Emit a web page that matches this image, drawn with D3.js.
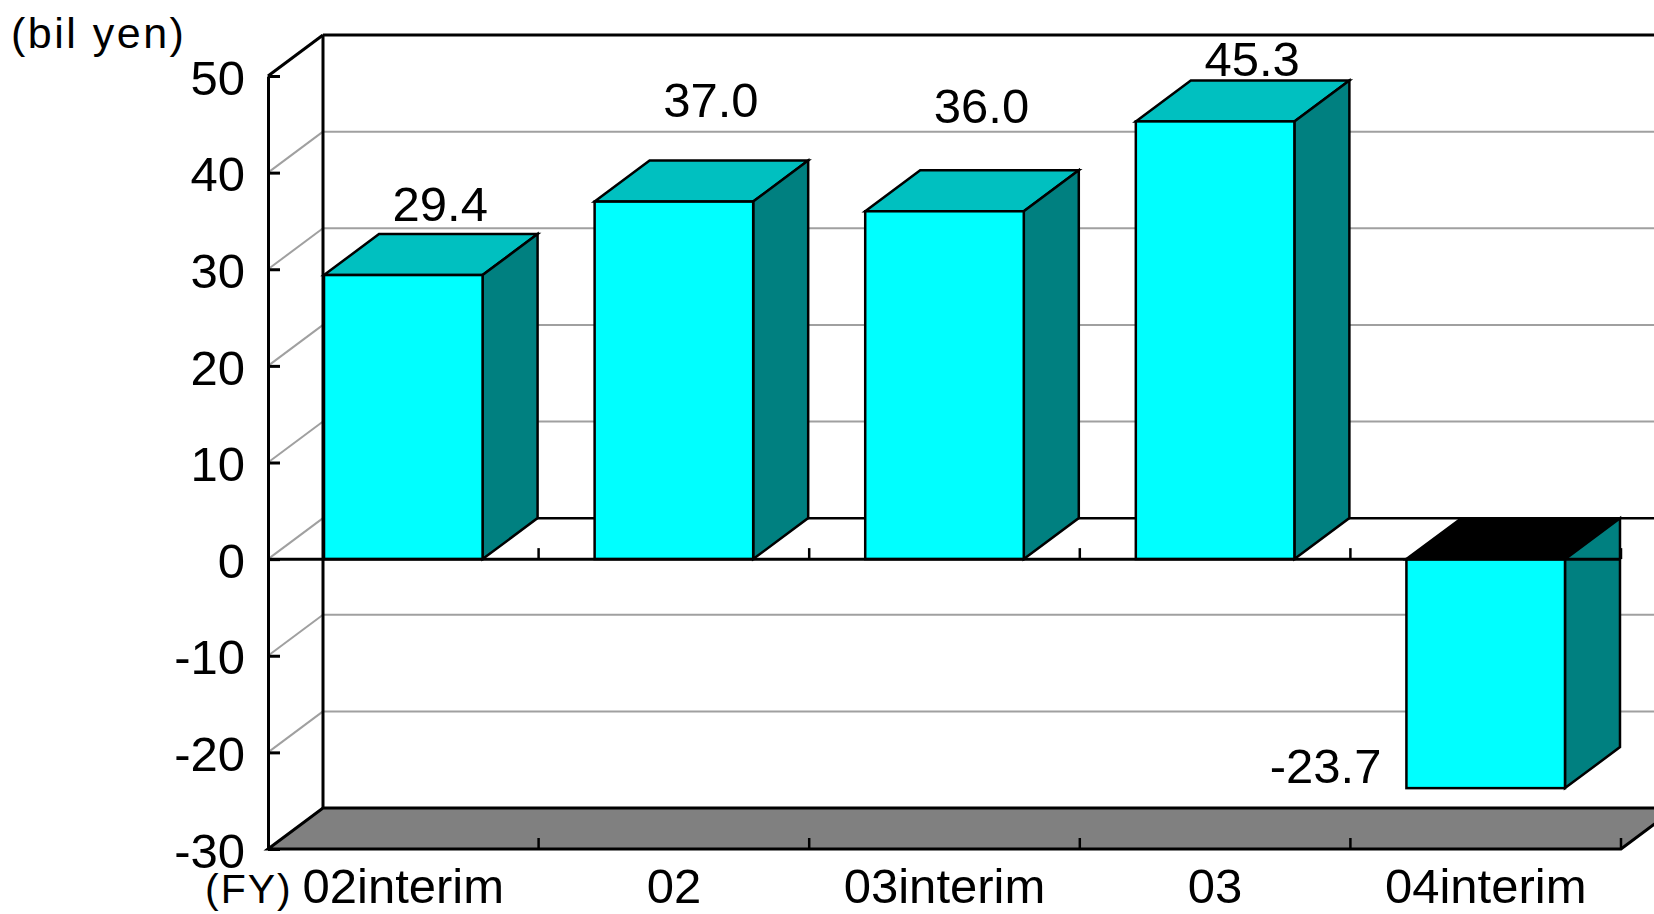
<!DOCTYPE html>
<html>
<head>
<meta charset="utf-8">
<script src="https://cdn.jsdelivr.net/npm/d3@7"></script>
<style>
  body { margin: 0; background: #fff; }
  svg { display: block; }
  text { font-family: "Liberation Sans", Arial, sans-serif; fill: #000; }
</style>
</head>
<body>
<svg id="chart" width="1654" height="914"></svg>
<script>
// Ordinary profit by fiscal period (billion yen)
const categories = ["02interim", "02", "03interim", "03", "04interim"];
const values = [29.4, 37.0, 36.0, 45.3, -23.7];
const valueLabels = ["29.4", "37.0", "36.0", "45.3", "-23.7"];
const yTicks = [-30, -20, -10, 0, 10, 20, 30, 40, 50];
const yTickLabels = ["-30", "-20", "-10", "0", "10", "20", "30", "40", "50"];
// distance of each value label above the back edge of its bar top
const labelLift = [13, 44, 47, 4, 0];

const svg = d3.select("#chart");

// front plane of the 3-D box and the depth offset to its back plane
const front = { left: 268, right: 1621, top: 76, bottom: 849 };
const DX = 55, DY = -41;

const y = d3.scaleLinear().domain([-30, 50]).range([front.bottom, front.top]);
const x = d3.scaleBand().domain(categories)
  .range([front.left, front.right])
  .paddingInner(0.414).paddingOuter(0.207);
const bw = x.bandwidth();
const step = x.step();
const y0 = y(0);

const pts = a => a.map(p => p.join(",")).join(" ");

// back wall
svg.append("polygon")
  .attr("points", pts([[front.left + DX, front.top + DY], [front.right + DX, front.top + DY],
                       [front.right + DX, front.bottom + DY], [front.left + DX, front.bottom + DY]]))
  .attr("fill", "#fff");

// gridlines on back wall and side wall
const grid = svg.append("g");
yTicks.filter(t => t !== -30 && t !== 50).forEach(t => {
  const yy = y(t);
  grid.append("line")
    .attr("x1", front.left + DX).attr("x2", front.right + DX)
    .attr("y1", yy + DY).attr("y2", yy + DY)
    .attr("stroke", t === 0 ? "#000" : "#a0a0a0")
    .attr("stroke-width", t === 0 ? 2.5 : 2);
  grid.append("line")
    .attr("x1", front.left).attr("y1", yy)
    .attr("x2", front.left + DX).attr("y2", yy + DY)
    .attr("stroke", "#a0a0a0").attr("stroke-width", 2);
});

// floor
svg.append("polygon")
  .attr("points", pts([[front.left, front.bottom], [front.right, front.bottom],
                       [front.right + DX, front.bottom + DY], [front.left + DX, front.bottom + DY]]))
  .attr("fill", "#808080").attr("stroke", "#000").attr("stroke-width", 3)
  .attr("stroke-linejoin", "miter");

// box edges: back wall top and left edge, side wall top
const edges = svg.append("g").attr("stroke", "#000").attr("stroke-width", 3).attr("fill", "none");
edges.append("line")
  .attr("x1", front.left + DX).attr("x2", front.right + DX)
  .attr("y1", front.top + DY).attr("y2", front.top + DY);
edges.append("line")
  .attr("x1", front.left + DX).attr("x2", front.left + DX)
  .attr("y1", front.top + DY).attr("y2", front.bottom + DY);
edges.append("line")
  .attr("x1", front.left).attr("y1", front.top)
  .attr("x2", front.left + DX).attr("y2", front.top + DY);

// value axis: labels on the left, short ticks pointing into the box
const yAxis = d3.axisLeft(y).tickValues(yTicks)
  .tickFormat((d, i) => yTickLabels[i])
  .tickSizeInner(-12).tickSizeOuter(0).tickPadding(23);
const gy = svg.append("g").attr("transform", `translate(${front.left},0)`).call(yAxis);
gy.select(".domain").attr("stroke", "#000").attr("stroke-width", 3);
gy.selectAll(".tick line").attr("stroke", "#000").attr("stroke-width", 3);
gy.selectAll(".tick text")
  .attr("font-size", 49).attr("dy", "0.37em")
  .attr("font-family", '"Liberation Sans", Arial, sans-serif');

// bars
const bars = svg.append("g");
categories.forEach((c, i) => {
  const v = values[i];
  const x0 = x(c), x1 = x0 + bw;
  const yTop = Math.min(y(v), y0), yBot = Math.max(y(v), y0);
  const g = bars.append("g").attr("stroke", "#000").attr("stroke-width", 2.5)
    .attr("stroke-linejoin", "miter");
  g.append("polygon")
    .attr("points", pts([[x0, yTop], [x0 + DX, yTop + DY], [x1 + DX, yTop + DY], [x1, yTop]]))
    .attr("fill", v < 0 ? "#000" : "#00c0c0");
  g.append("polygon")
    .attr("points", pts([[x1, yTop], [x1 + DX, yTop + DY], [x1 + DX, yBot + DY], [x1, yBot]]))
    .attr("fill", "#008080");
  g.append("rect")
    .attr("x", x0).attr("y", yTop).attr("width", bw).attr("height", yBot - yTop)
    .attr("fill", "#00ffff");
});

// category axis line at zero, with boundary ticks
svg.append("line")
  .attr("x1", front.left).attr("x2", front.right)
  .attr("y1", y0).attr("y2", y0)
  .attr("stroke", "#000").attr("stroke-width", 3);
const bounds = d3.range(1, categories.length + 1).map(k => front.left + k * step);
svg.append("g").selectAll("line").data(bounds).join("line")
  .attr("x1", d => d).attr("x2", d => d)
  .attr("y1", y0 - 11).attr("y2", y0)
  .attr("stroke", "#000").attr("stroke-width", 2.5);
svg.append("g").selectAll("line").data(bounds).join("line")
  .attr("x1", d => d).attr("x2", d => d)
  .attr("y1", front.bottom - 11).attr("y2", front.bottom)
  .attr("stroke", "#000").attr("stroke-width", 2.5);

// category labels
const xAxis = d3.axisBottom(x).tickSize(0).tickPadding(0);
const gx = svg.append("g").attr("transform", `translate(0,${front.bottom})`).call(xAxis);
gx.select(".domain").remove();
gx.selectAll(".tick text")
  .attr("font-size", 49).attr("dy", null).attr("y", 54)
  .attr("font-family", '"Liberation Sans", Arial, sans-serif');

// value labels
svg.append("g").selectAll("text").data(categories).join("text")
  .attr("font-size", 49)
  .attr("text-anchor", (c, i) => values[i] < 0 ? "end" : "middle")
  .attr("x", (c, i) => values[i] < 0 ? x(c) - 25 : x(c) + bw / 2 + 37)
  .attr("y", (c, i) => values[i] < 0 ? y(values[i]) - 5 : y(values[i]) + DY - labelLift[i])
  .text((c, i) => valueLabels[i]);

// unit and period captions
svg.append("text").attr("x", 11).attr("y", 48).attr("font-size", 43)
  .attr("letter-spacing", 2.5)
  .text("(bil yen)");
svg.append("text").attr("x", 205).attr("y", 903).attr("font-size", 41)
  .attr("letter-spacing", 2)
  .text("(FY)");
</script>
</body>
</html>
